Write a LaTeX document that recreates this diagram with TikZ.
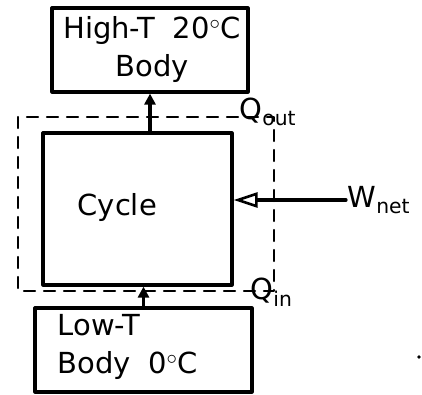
\documentclass[tikz,border=0pt]{standalone}
\usepackage{fontspec}
\setmainfont{DejaVu Sans}
\usetikzlibrary{arrows.meta}

\begin{document}
\begin{tikzpicture}[x=1pt, y=-1pt, line width=3.2pt, line cap=round, line join=round,
    body/.style={draw, inner sep=0pt},
    hand/.style={font=\fontsize{29}{38}\selectfont, inner sep=0pt},
    flow/.style={-{Triangle[length=11pt,width=11pt]}},
    work/.style={-{Triangle[open,length=24pt,width=15pt,line width=2.6pt]}}]

  %% ════ 物体与循环 ════
  \node[body, minimum width=196pt, minimum height=84pt] (high) at (150,50) {};
  \node[hand, align=center] (hightxt) at (152,50) {High-T\hspace{0.6em}20$^\circ$C\\Body};
  \node[body, minimum width=189pt, minimum height=152pt] (cycle) at (137.5,209) {};
  \node[hand, anchor=west] (cycletxt) at (76,207) {Cycle};
  \node[body, minimum width=217pt, minimum height=84pt] (low) at (143.5,350) {};
  \node[hand, align=left, anchor=west] (lowtxt) at (56,347) {Low-T\\Body\hspace{0.6em}0$^\circ$C};

  %% ════ 系统边界（虚线）════
  \draw[line width=2.4pt, dash pattern=on 11pt off 9pt] (18,117) rectangle (274,291);

  %% ════ 热流与功 ════
  \draw[flow] (cycle.north -| high.south) -- (high.south);
  \draw[flow] (low.north) -- (low.north |- cycle.south);
  \node[hand, anchor=west] (wnet) at (346,200) {W\textsubscript{net}};
  \draw[work] (wnet.west) -- (wnet.west -| cycle.east);

  %% ════ 标签 ════
  \node[hand, anchor=west] (qout) at (238,112) {Q\textsubscript{out}};
  \node[hand, anchor=west] (qin) at (249,292) {Q\textsubscript{in}};

  \fill (419,357) circle (1.8);

  \pgfresetboundingbox
  \path[use as bounding box] (0,0) rectangle (422,395);
\end{tikzpicture}
\end{document}
